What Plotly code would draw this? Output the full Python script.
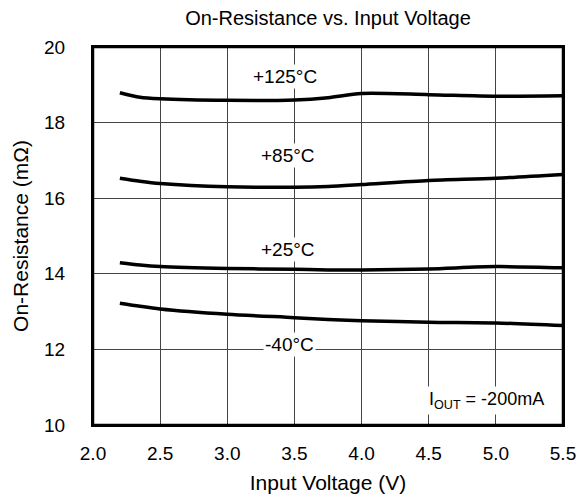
import plotly.graph_objects as go

vin = [2.2, 2.35, 2.5, 3.0, 3.5, 3.75, 4.0, 4.5, 5.0, 5.5]
r_125 = [18.79, 18.67, 18.63, 18.59, 18.60, 18.66, 18.77, 18.74, 18.70, 18.71]
r_85 = [16.53, 16.45, 16.39, 16.30, 16.29, 16.31, 16.36, 16.47, 16.53, 16.63]
r_25 = [14.29, 14.23, 14.19, 14.14, 14.12, 14.10, 14.10, 14.13, 14.19, 14.16]
r_m40 = [13.22, 13.14, 13.07, 12.93, 12.84, 12.79, 12.76, 12.72, 12.70, 12.63]

labels = ["+125°C", "+85°C", "+25°C", "-40°C"]
label_x = [3.43, 3.45, 3.45, 3.46]
label_y = [19.21, 17.12, 14.63, 12.12]

FONT = "Liberation Sans, Arial, sans-serif"

fig = go.Figure()
for ys in [r_125, r_85, r_25, r_m40]:
    fig.add_trace(go.Scatter(x=vin, y=ys, mode="lines",
                             line=dict(color="black", width=3.5, shape="spline", smoothing=0.8),
                             showlegend=False, cliponaxis=True))

for t, lx, ly in zip(labels, label_x, label_y):
    fig.add_annotation(x=lx, y=ly, text=t, showarrow=False, bgcolor="white",
                       font=dict(family=FONT, size=19, color="black"), borderpad=1)

fig.add_annotation(x=4.93, y=10.66, text="I<sub>OUT</sub> = -200mA", showarrow=False,
                   bgcolor="white", font=dict(family=FONT, size=18, color="black"), borderpad=2)

fig.add_shape(type="rect", xref="paper", yref="paper", x0=0, x1=1, y0=0, y1=1,
              line=dict(color="black", width=2.5), layer="above")

fig.update_layout(
    width=576, height=499, autosize=False,
    margin=dict(l=93, r=13, t=47, b=74, autoexpand=False),
    paper_bgcolor="white", plot_bgcolor="white",
    font=dict(family=FONT, color="black"),
    title=dict(text="On-Resistance vs. Input Voltage", x=0.5, xanchor="center",
               xref="paper", y=1 - 18 / 499, yanchor="middle", yref="container",
               font=dict(size=20, family=FONT, color="black")),
)
fig.update_xaxes(range=[2.0, 5.5], dtick=0.5, tickformat=".1f",
                 showline=True, linecolor="black", linewidth=2, mirror=True,
                 showgrid=True, gridcolor="#444444", gridwidth=1, zeroline=False,
                 ticks="", ticklabelstandoff=10, automargin=False, ticklabeloverflow="allow",
                 tickfont=dict(size=19, family=FONT, color="black"),
                 title=dict(text="Input Voltage (V)", font=dict(size=21, family=FONT, color="black"), standoff=13))
fig.update_yaxes(range=[10, 20], dtick=2,
                 showline=True, linecolor="black", linewidth=2, mirror=True,
                 showgrid=True, gridcolor="#444444", gridwidth=1, zeroline=False,
                 ticks="", ticklabelstandoff=22, automargin=False, ticklabeloverflow="allow",
                 tickfont=dict(size=19, family=FONT, color="black"),
                 title=dict(text="On-Resistance (mΩ)", font=dict(size=21, family=FONT, color="black"), standoff=10))

fig.write_html("out.html")
